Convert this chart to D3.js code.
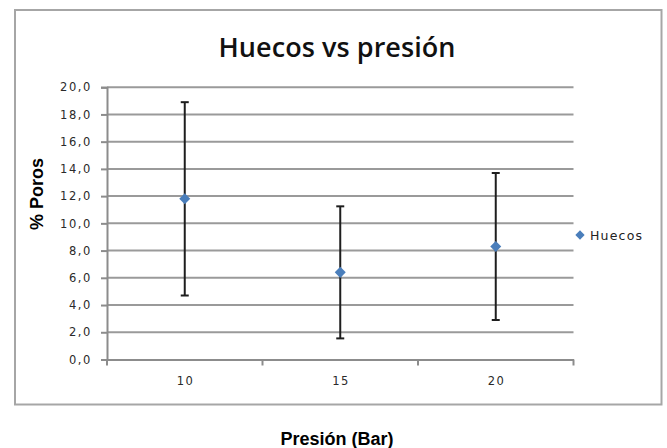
<!DOCTYPE html>
<html><head><meta charset="utf-8">
<script src="https://cdn.jsdelivr.net/npm/d3@7"></script>
<style>body{margin:0;background:#fff}svg{display:block}</style>
</head><body>
<svg id="c" width="667" height="448"></svg>
<script>
const categories = ["10", "15", "20"];
const values = [11.8, 6.4, 8.3];
const errors = [7.1, 4.85, 5.4];
const yTicks = [0, 2, 4, 6, 8, 10, 12, 14, 16, 18, 20];
const seriesName = "Huecos";
const title = "Huecos vs presión";
const yTitle = "% Poros";
const xTitle = "Presión (Bar)";

const svg = d3.select("#c");
const L = 107, R = 573.5, T = 87.2, B = 359.5;
const tickFont = "'DejaVu Sans', sans-serif";

svg.append("rect").attr("x", 15).attr("y", 10).attr("width", 646.5).attr("height", 394.5)
  .attr("fill", "#fff").attr("stroke", "#a6a6a6").attr("stroke-width", 2);

const x = d3.scaleBand().domain(categories).range([L, R]);
const y = d3.scaleLinear().domain([0, 20]).range([B, T]);

// gridlines
svg.append("g").selectAll("line").data(yTicks.filter(d => d > 0)).join("line")
  .attr("x1", L).attr("x2", R).attr("y1", d => y(d)).attr("y2", d => y(d))
  .attr("stroke", "#9a9a9a").attr("stroke-width", 2);

// y axis
const ya = svg.append("g").attr("transform", `translate(${L},0)`)
  .call(d3.axisLeft(y).tickValues(yTicks).tickSize(6).tickPadding(9)
    .tickFormat(d => d3.format(".1f")(d).replace(".", ",")));
ya.select(".domain").attr("stroke", "#8c8c8c").attr("stroke-width", 2);
ya.selectAll(".tick line").attr("stroke", "#8c8c8c").attr("stroke-width", 2);
ya.selectAll("text").attr("fill", "#2a2a2a").style("font-family", tickFont)
  .style("font-size", "11.5px").style("letter-spacing", "1.6px");

// x axis
const xa = svg.append("g").attr("transform", `translate(0,${B})`)
  .call(d3.axisBottom(x).tickSize(0).tickPadding(17));
xa.select(".domain").attr("stroke", "#8c8c8c").attr("stroke-width", 2);
xa.selectAll("text").attr("fill", "#2a2a2a").style("font-family", tickFont)
  .style("font-size", "11.5px").style("letter-spacing", "1.6px").attr("dx", "0.8px");
// category boundary ticks
svg.append("g").selectAll("line").data(categories.concat(["end"])).join("line")
  .attr("x1", (d, i) => i < categories.length ? x(d) : R)
  .attr("x2", (d, i) => i < categories.length ? x(d) : R)
  .attr("y1", B).attr("y2", B + 6).attr("stroke", "#8c8c8c").attr("stroke-width", 2);

// error bars
const eb = svg.append("g");
categories.forEach((c, i) => {
  const cx = x(c) + x.bandwidth() / 2;
  const hi = y(values[i] + errors[i]), lo = y(values[i] - errors[i]);
  eb.append("line").attr("x1", cx).attr("x2", cx).attr("y1", hi).attr("y2", lo)
    .attr("stroke", "#1e1e1e").attr("stroke-width", 2);
  [hi, lo].forEach(v => eb.append("line").attr("x1", cx - 4).attr("x2", cx + 4)
    .attr("y1", v).attr("y2", v).attr("stroke", "#1e1e1e").attr("stroke-width", 2));
});

// markers
const diamond = d3.symbol().type(d3.symbolDiamond2).size(78);
svg.append("g").selectAll("path").data(values).join("path")
  .attr("d", diamond)
  .attr("transform", (d, i) => `translate(${x(categories[i]) + x.bandwidth() / 2},${y(d)})`)
  .attr("fill", "#4a7ebb");

// title
const tt = svg.append("text").attr("x", 337).attr("y", 57).attr("text-anchor", "middle")
  .style("font-family", "'Open Sans', sans-serif").style("font-weight", "600")
  .style("font-size", "27px").attr("fill", "#111").text(title);
const tw = tt.node().getComputedTextLength();
const ls = Math.max(-1, Math.min(1.2, (237 - tw) / (title.length - 1)));
tt.style("letter-spacing", ls + "px").attr("dx", (ls / 2) + "px");

// y title
svg.append("text").attr("transform", "translate(43,194) rotate(-90)").attr("text-anchor", "middle")
  .style("font-family", "'Liberation Sans', Arial, sans-serif").style("font-weight", "bold").style("font-size", "18px").text(yTitle);

// x title
svg.append("text").attr("x", 337).attr("y", 445).attr("text-anchor", "middle")
  .style("font-family", "'Liberation Sans', Arial, sans-serif").style("font-weight", "bold").style("font-size", "18px").text(xTitle);

// legend
svg.append("path").attr("d", d3.symbol().type(d3.symbolDiamond2).size(55)).attr("transform", "translate(580,235)").attr("fill", "#4a7ebb");
svg.append("text").attr("x", 590).attr("y", 239.5).style("font-family", tickFont)
  .style("font-size", "12.5px").style("letter-spacing", "1.2px").attr("fill", "#222").text(seriesName);
</script>
</body></html>
